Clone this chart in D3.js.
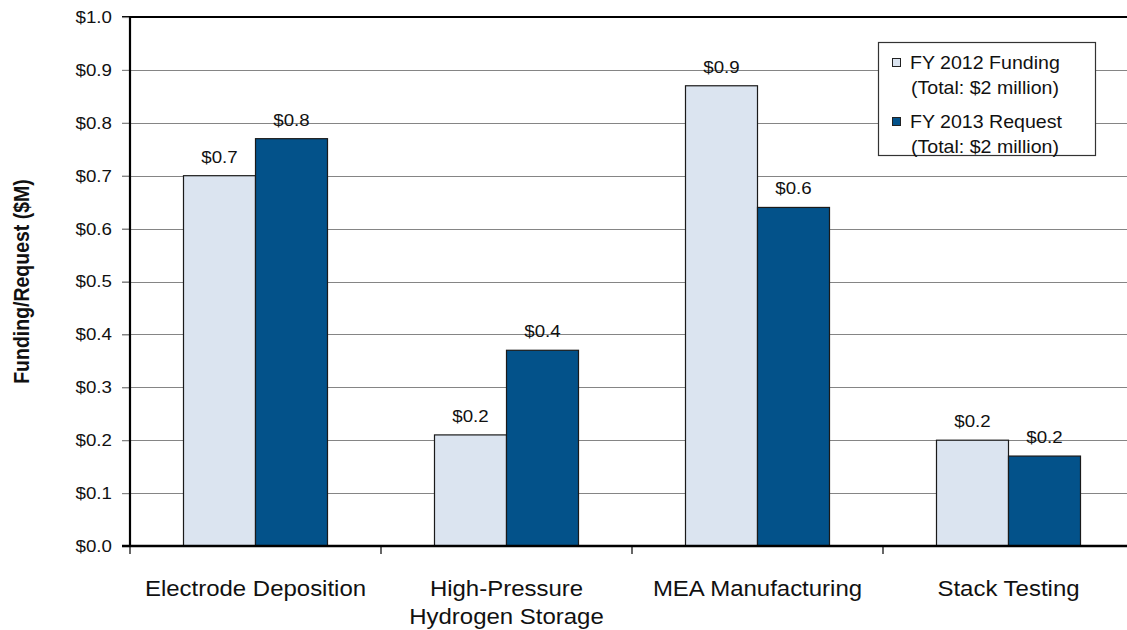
<!DOCTYPE html>
<html>
<head>
<meta charset="utf-8">
<script src="https://cdn.jsdelivr.net/npm/d3@7"></script>
<style>
  body { margin: 0; background: #fff; }
  svg { font-family: "Liberation Sans", Arial, sans-serif; }
</style>
</head>
<body>
<svg id="chart" width="1127" height="630"></svg>
<script>
// data
var categories = ["Electrode Deposition", "High-Pressure|Hydrogen Storage", "MEA Manufacturing", "Stack Testing"];
var seriesNames = ["FY 2012 Funding", "FY 2013 Request"];
var seriesNotes = ["(Total: $2 million)", "(Total: $2 million)"];
var fy2012 = [0.70, 0.21, 0.87, 0.20];
var fy2013 = [0.77, 0.37, 0.64, 0.17];
var yTicks = [0, 0.1, 0.2, 0.3, 0.4, 0.5, 0.6, 0.7, 0.8, 0.9, 1.0];

var colors = ["#dbe4f0", "#03528a"];
var sx = 1.1; // the original picture is stretched sideways a bit

var svg = d3.select("#chart");
var margin = { top: 17, left: 130, bottom: 84 };
var height = +svg.attr("height") - margin.top - margin.bottom;
var plotRight = 1134;

var x0 = d3.scaleBand()
    .domain(categories)
    .range([margin.left, plotRight])
    .padding(0);
var x1 = d3.scaleBand()
    .domain(seriesNames)
    .range([0, x0.bandwidth()])
    .paddingInner(0)
    .paddingOuter(0.743);
var y = d3.scaleLinear().domain([0, 1]).range([margin.top + height, margin.top]);
var fmt = d3.format("$.1f");

var rows = categories.map(function (c, i) {
    return { cat: c, values: [fy2012[i], fy2013[i]] };
});

// gridlines
svg.append("g")
    .selectAll("line")
    .data(yTicks.slice(1, -1))
    .enter().append("line")
    .attr("x1", margin.left - 8)
    .attr("x2", plotRight)
    .attr("y1", function (d) { return Math.round(y(d)) + 0.5; })
    .attr("y2", function (d) { return Math.round(y(d)) + 0.5; })
    .attr("stroke", "#858585")
    .attr("stroke-width", 1.2);

// top border
svg.append("line")
    .attr("x1", margin.left - 8).attr("x2", plotRight)
    .attr("y1", y(1)).attr("y2", y(1))
    .attr("stroke", "#000").attr("stroke-width", 2);

// bars
var groups = svg.selectAll(".grp")
    .data(rows)
    .enter().append("g")
    .attr("class", "grp")
    .attr("transform", function (d) { return "translate(" + x0(d.cat) + ",0)"; });

groups.selectAll("rect")
    .data(function (d) { return d.values.map(function (v, i) { return { s: seriesNames[i], v: v, i: i }; }); })
    .enter().append("rect")
    .attr("x", function (d) { return x1(d.s); })
    .attr("y", function (d) { return y(d.v); })
    .attr("width", x1.bandwidth())
    .attr("height", function (d) { return y(0) - y(d.v); })
    .attr("fill", function (d) { return colors[d.i]; })
    .attr("stroke", "#1a1a1a")
    .attr("stroke-width", 1.2);

groups.selectAll("text")
    .data(function (d) { return d.values.map(function (v, i) { return { s: seriesNames[i], v: v }; }); })
    .enter().append("text")
    .attr("transform", function (d) {
        return "translate(" + (x1(d.s) + x1.bandwidth() / 2) + "," + (y(d.v) - 13) + ") scale(" + sx + ",1)";
    })
    .attr("text-anchor", "middle")
    .attr("font-size", 17)
    .attr("fill", "#111")
    .text(function (d) { return fmt(d.v); });

// y axis
var yAxis = svg.append("g")
    .attr("transform", "translate(" + margin.left + ",0)")
    .call(d3.axisLeft(y).tickValues(yTicks).tickFormat(fmt).tickSize(8).tickPadding(8.4));
yAxis.select(".domain").remove();
yAxis.selectAll(".tick line").attr("stroke", "#858585").attr("stroke-width", 1.2);
yAxis.selectAll(".tick text")
    .attr("font-size", 17)
    .attr("fill", "#111")
    .attr("font-family", "Liberation Sans, Arial, sans-serif")
    .attr("transform", "scale(" + sx + ",1)");
svg.append("line")
    .attr("x1", margin.left).attr("x2", margin.left)
    .attr("y1", y(1) - 1).attr("y2", y(0) + 1)
    .attr("stroke", "#000").attr("stroke-width", 2.2);

// x axis
svg.append("line")
    .attr("x1", margin.left - 8).attr("x2", plotRight)
    .attr("y1", y(0)).attr("y2", y(0))
    .attr("stroke", "#000").attr("stroke-width", 2.4);
svg.append("g")
    .selectAll("line")
    .data(categories)
    .enter().append("line")
    .attr("x1", function (d) { return x0(d); })
    .attr("x2", function (d) { return x0(d); })
    .attr("y1", y(0))
    .attr("y2", y(0) + 8)
    .attr("stroke", "#000")
    .attr("stroke-width", 1.2);

var catLabels = svg.selectAll(".cat")
    .data(categories)
    .enter().append("text")
    .attr("class", "cat")
    .attr("transform", function (d) {
        return "translate(" + (x0(d) + x0.bandwidth() / 2) + "," + (y(0) + 50) + ") scale(" + sx + ",1)";
    })
    .attr("text-anchor", "middle")
    .attr("font-size", 21.8)
    .attr("fill", "#111");
catLabels.each(function (d) {
    var t = d3.select(this);
    d.split("|").forEach(function (line, i) {
        t.append("tspan").attr("x", 0).attr("y", i * 28).text(line);
    });
});

// y title
svg.append("text")
    .attr("transform", "translate(29," + (y(0.5)) + ") scale(" + sx + ",1) rotate(-90)")
    .attr("text-anchor", "middle")
    .attr("font-size", 19.5)
    .attr("font-weight", "bold")
    .attr("fill", "#111")
    .text("Funding/Request ($M)");

// legend
var legend = svg.append("g").attr("transform", "translate(878,42)");
legend.append("rect")
    .attr("x", 0.5).attr("y", 0.5)
    .attr("width", 217).attr("height", 113)
    .attr("fill", "#fff")
    .attr("stroke", "#333")
    .attr("stroke-width", 1.2);
var items = legend.selectAll(".item")
    .data(seriesNames)
    .enter().append("g")
    .attr("class", "item")
    .attr("transform", function (d, i) { return "translate(0," + (i * 59) + ")"; });
items.append("rect")
    .attr("x", 14.5).attr("y", 16.5)
    .attr("width", 8).attr("height", 8)
    .attr("fill", function (d, i) { return colors[i]; })
    .attr("stroke", "#222");
items.append("text")
    .attr("transform", "translate(32,27) scale(" + sx + ",1)")
    .attr("font-size", 17.8)
    .attr("fill", "#111")
    .text(function (d) { return d; });
items.append("text")
    .attr("transform", "translate(33,52) scale(" + sx + ",1)")
    .attr("font-size", 17.8)
    .attr("fill", "#111")
    .text(function (d, i) { return seriesNotes[i]; });
</script>
</body>
</html>
